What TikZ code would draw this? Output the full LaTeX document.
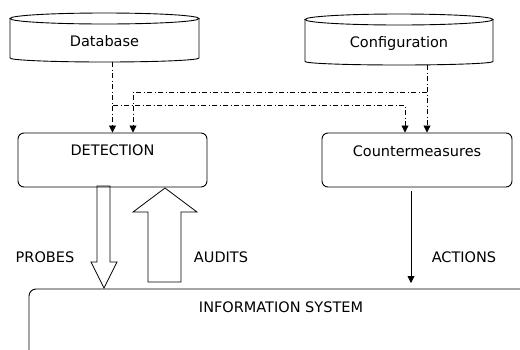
\documentclass[tikz,border=0pt]{standalone}
\usepackage{fontspec}
\setmainfont{DejaVu Sans}
\usetikzlibrary{arrows.meta}
\begin{document}
\begin{tikzpicture}[x=1pt,y=-1pt,
  lbl/.style={font=\fontsize{14.5}{17}\selectfont, inner sep=0pt},
  box/.style={draw, rounded corners=6pt, line width=0.9pt},
  dd/.style={line width=0.8pt, dash pattern=on 5pt off 2.5pt on 1pt off 2.5pt},
  tip/.style={-{Triangle[width=7pt,length=7pt]}},
  cyl/.style={draw, line width=0.9pt}]
\useasboundingbox (0,0) rectangle (520,349);
\clip (0,0) rectangle (520,349);
% cylinders
\node[lbl, minimum width=189pt, minimum height=49pt] (db) at (104.5,37.5) {};
\node[lbl] at (104.5,41) {Database};
\draw[cyl] (10,18.5) -- (10,58) arc[start angle=180,end angle=360,x radius=94.5,y radius=-4] -- (199,18.5);
\draw[cyl] (104.5,18.5) ellipse[x radius=94.5,y radius=5.5];
\node[lbl, minimum width=188pt, minimum height=51pt] (cfg) at (399,39.5) {};
\node[lbl] at (399,43) {Configuration};
\draw[cyl] (305,19.5) -- (305,61.5) arc[start angle=180,end angle=360,x radius=94,y radius=-3.5] -- (493,19.5);
\draw[cyl] (399,19.5) ellipse[x radius=94,y radius=5.5];
% boxes
\node[box, minimum width=189pt, minimum height=54pt] (det) at (112.5,160) {};
\node[lbl] at (112.5,150) {DETECTION};
\node[box, minimum width=190pt, minimum height=54pt] (cm) at (417,160) {};
\node[lbl] at (417,151) {Countermeasures};
% info system
\coordinate (info) at (281,289);
\draw[line width=0.9pt, rounded corners=7pt] (29,360) -- (29,289) -- (530,289);
\node[lbl] at (281,307) {INFORMATION SYSTEM};
% dash-dot connectors
\coordinate (j1) at (113,105);
\coordinate (j2) at (427,92);
\draw[dd,tip] (det.north |- db.south) -- (det.north);
\draw[dd,tip] (j1) -| ([xshift=-12pt]cm.north);
\draw[dd,tip] ([xshift=10pt]cm.north |- cfg.south) -- ([xshift=10pt]cm.north);
\draw[dd,tip] (j2) -| ([xshift=20.5pt]det.north);
% hollow arrows
\draw[line width=0.8pt, line join=miter] (97,186) -- (110,186) -- (110,262) -- (117,262) -- (104,288) -- (91,262) -- (97,262) -- cycle;
\draw[line width=0.8pt, line join=miter] (148,282) -- (148,212) -- (133,212) -- (165,188) -- (197,212) -- (181,212) -- (181,282) -- cycle;
% actions
\draw[line width=0.8pt, tip] ([yshift=-4pt]cm.south -| 411,0) -- ([yshift=6pt]info -| 411,0);
% labels
\node[lbl] at (45,257) {PROBES};
\node[lbl] at (221,257) {AUDITS};
\node[lbl] at (464,257) {ACTIONS};
\end{tikzpicture}
\end{document}
